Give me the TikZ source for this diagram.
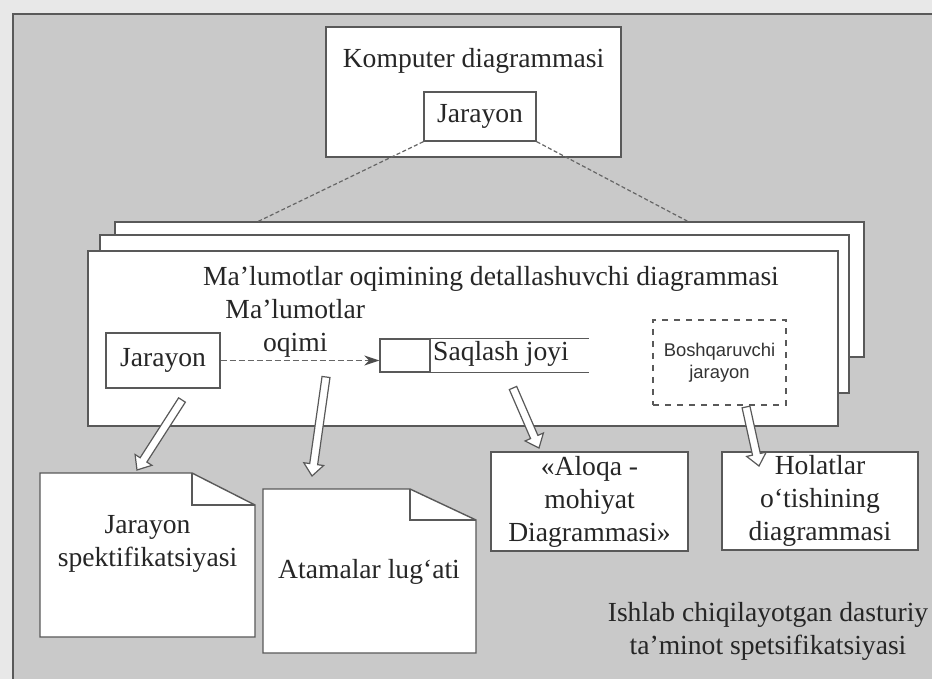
\documentclass[tikz,border=0pt]{standalone}
\usepackage{fontspec}
\setmainfont{Liberation Serif}
\setsansfont{Liberation Sans}
\usetikzlibrary{calc, positioning, arrows.meta}

% hollow (double-outline) arrow from #1 to #2
\newcommand{\hollowarrow}[2]{%
  \draw[hollow]
    ($(#1)!2pt!90:(#2)$) --
    ($(#2)!6pt!(#1)!2pt!90:(#2)$) --
    ($(#2)!6pt!(#1)!5pt!90:(#2)$) --
    (#2) --
    ($(#2)!6pt!(#1)!5pt!-90:(#2)$) --
    ($(#2)!6pt!(#1)!2pt!-90:(#2)$) --
    ($(#1)!2pt!-90:(#2)$) -- cycle;}

\begin{document}
\begin{tikzpicture}[x=0.5pt, y=-0.5pt, >=Stealth,
  txt/.style={font=\fontsize{13.8}{16.5}\selectfont, text=black!85, align=center, inner sep=0pt},
  box/.style={draw=black!65, line width=0.7pt, fill=white, inner sep=0pt},
  boxline/.style={draw=black!65, line width=0.7pt},
  hollow/.style={draw=black!65, line width=0.6pt, fill=white, line join=miter},
  zoomline/.style={draw=black!60, line width=0.6pt, dash pattern=on 2pt off 1.2pt},
  flowline/.style={draw=black!60, line width=0.7pt, dash pattern=on 3pt off 1.5pt}]
  \useasboundingbox (0,0) rectangle (932,679);
  \fill[black!9] (0,0) rectangle (932,679);
  \draw[black!65, line width=0.8pt, fill=black!21] (13,700) -- (13,14) -- (950,14) -- (950,700);

  % computer diagram
  \node[box, minimum width=147.5pt, minimum height=65pt] (komp) at (473.5,92) {};
  \node[txt] (komptxt) at (473.5,61) {Komputer diagrammasi};
  \node[box, txt, minimum width=56pt, minimum height=24.5pt] (jar0) at (480,116.5) {Jarayon};

  % stacked data flow diagrams
  \node[box, minimum width=374.5pt, minimum height=67.5pt] (back) at (489.5,289.5) {};
  \node[box, minimum width=374.5pt, minimum height=79pt] (mid) at (474.5,314) {};
  \node[box, minimum width=375pt, minimum height=87.5pt] (front) at (463,338.5) {};
  \coordinate (z1) at (257,222);
  \coordinate (z2) at (689,222);
  \draw[zoomline] (jar0.south west) -- (z1);
  \draw[zoomline] (jar0.south east) -- (z2);

  \node[txt] (dfdtitle) at (491,279) {Ma’lumotlar oqimining detallashuvchi diagrammasi};
  \node[box, txt, minimum width=57pt, minimum height=27.5pt] (jar1) at (163,360.5) {Jarayon};
  \node[box, minimum width=25pt, minimum height=16.5pt] (saqbox) at (405,355.5) {};
  \draw[boxline] (saqbox.north east) -- ++(158,0) (saqbox.south east) -- ++(158,0);
  \node[txt] (saq) at (501,354) {Saqlash joyi};
  \draw[flowline, -{Stealth[length=7.5pt, width=5pt, color=black!70]}] (jar1.east) -- (jar1.east -| saqbox.west)
    node[txt, pos=0.47, above=1pt] (flowlbl) {Ma’lumotlar\\oqimi};
  \node[box, dashed, minimum width=66.5pt, minimum height=42.5pt, align=center,
        font=\sffamily\fontsize{9.2}{11}\selectfont, text=black!80] (bosh) at (719.5,362.5) {Boshqaruvchi\\jarayon};

  % specifications
  \draw[box] (40,473) -- (192,473) -- (255,505) -- (255,637) -- (40,637) -- cycle;
  \draw[boxline] (192,473) |- (255,505);
  \node[txt] (spec) at (147.5,544) {Jarayon\\spektifikatsiyasi};
  \draw[box] (263,489) -- (410,489) -- (476,520) -- (476,653) -- (263,653) -- cycle;
  \draw[boxline] (410,489) |- (476,520);
  \node[txt] (lugat) at (369,572) {Atamalar lug‘ati};
  \node[box, txt, minimum width=98.5pt, minimum height=49.5pt] (aloqa) at (589.5,501.5) {«Aloqa -\\mohiyat\\Diagrammasi»};
  \node[box, txt, minimum width=98pt, minimum height=49pt] (holat) at (820,501) {Holatlar\\o‘tishining\\diagrammasi};
  \node[txt] (dastur) at (768,631.5) {Ishlab chiqilayotgan dasturiy\\ta’minot spetsifikatsiyasi};

  % hollow arrows
  \coordinate (h1s) at (182,400);
  \coordinate (h1e) at (137,470);
  \coordinate (h2s) at (326,377);
  \coordinate (h2e) at (312,476);
  \coordinate (h3s) at (513,388);
  \coordinate (h3e) at (539,448);
  \coordinate (h4s) at (746,407);
  \coordinate (h4e) at (759,466);
  \hollowarrow{h1s}{h1e}
  \hollowarrow{h2s}{h2e}
  \hollowarrow{h3s}{h3e}
  \hollowarrow{h4s}{h4e}
\end{tikzpicture}
\end{document}
